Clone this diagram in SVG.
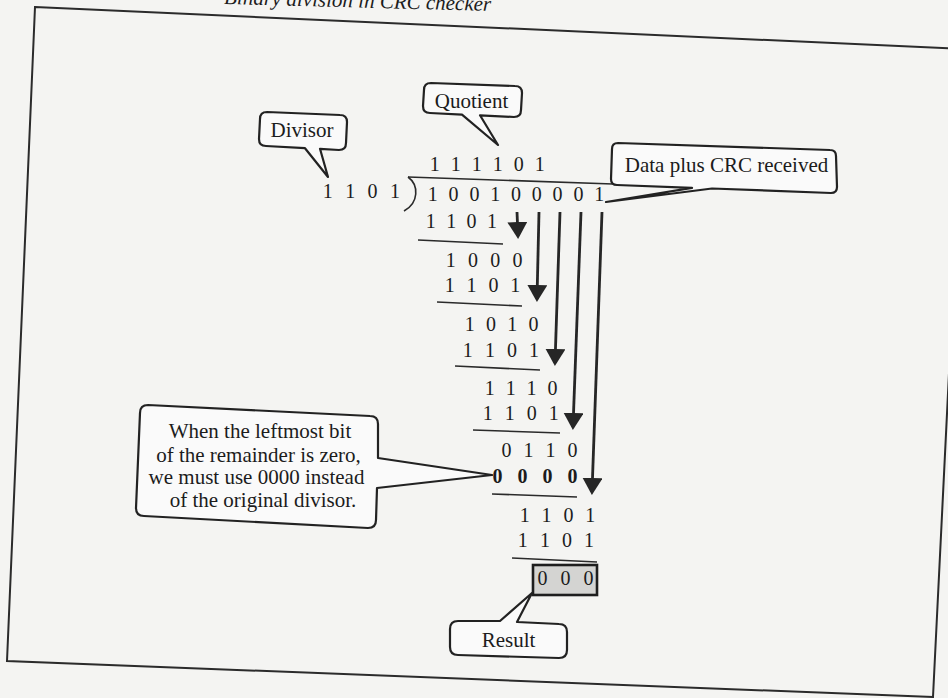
<svg xmlns="http://www.w3.org/2000/svg" width="948" height="698" viewBox="0 0 948 698">
<defs>
<style>
.t{font-family:"Liberation Serif","Times New Roman",serif;fill:#1c1c1c}
.d{font-size:20px}
.c{font-size:21px;text-anchor:middle}
.box{fill:#fafafa;stroke:#222;stroke-width:2.2;stroke-linejoin:round}
.ul{stroke:#2a2a2a;stroke-width:1.6;fill:none}
.sh{stroke:#262626;stroke-width:2.8;fill:none;marker-end:url(#ah)}
</style>
<marker id="ah" viewBox="0 0 17 20" refX="14" refY="10" markerWidth="17" markerHeight="20" markerUnits="userSpaceOnUse" orient="auto">
<path d="M0,0 L17,10 L0,20 Z" fill="#262626"/>
</marker>
</defs>
<rect width="948" height="698" fill="#f4f4f2"/>
<text class="t" x="491" y="11" font-size="21" font-style="italic" text-anchor="end" transform="rotate(1.5 491 11)">Binary division in CRC checker</text>
<polygon points="35,7 965,49 933,697 7,661" fill="none" stroke="#2b2b2b" stroke-width="2"/>

<g id="connectors">
<path class="sh" d="M517,212 L518,236"/>
<path class="sh" d="M539,212 L537,299"/>
<path class="sh" d="M560,212 L555,363"/>
<path class="sh" d="M581,212 L573,427"/>
<path class="sh" d="M602,212 L592,492"/>
</g>

<g id="division">
<path class="ul" d="M408,177 L613,184" stroke-width="1.8"/>
<path class="ul" d="M408,177 C419,185 419,203 404,211" stroke-width="1.8"/>
<text class="t d" x="429.8" y="171" letter-spacing="3">1 1 1 1 0 1</text>
<text class="t d" x="322.8" y="198" letter-spacing="3.7">1 1 0 1</text>
<text class="t d" x="427.8" y="201" letter-spacing="2.9">1 0 0 1 0 0 0 0 1</text>
<text class="t d" x="425.8" y="228" letter-spacing="2.7">1 1 0 1</text>
<path class="ul" d="M418,240 L503,244"/>
<text class="t d" x="445.8" y="267" letter-spacing="3.6">1 0 0 0</text>
<text class="t d" x="444.8" y="292" letter-spacing="3.4">1 1 0 1</text>
<path class="ul" d="M437,302 L522,306"/>
<text class="t d" x="464.8" y="331" letter-spacing="3.1">1 0 1 0</text>
<text class="t d" x="462.8" y="357" letter-spacing="3.55">1 1 0 1</text>
<path class="ul" d="M455,366 L540,370"/>
<text class="t d" x="484.8" y="395" letter-spacing="2.95">1 1 1 0</text>
<text class="t d" x="482.8" y="420" letter-spacing="3.5">1 1 0 1</text>
<path class="ul" d="M473,430 L560,433"/>
<text class="t d" x="501.5" y="457" letter-spacing="3.5">0 1 1 0</text>
<text class="t d" x="492.5" y="483" letter-spacing="5" font-weight="bold">0 0 0 0</text>
<path class="ul" d="M492,494 L577,497"/>
<text class="t d" x="519.8" y="522" letter-spacing="3.4">1 1 0 1</text>
<text class="t d" x="517.8" y="547" letter-spacing="3.55">1 1 0 1</text>
<path class="ul" d="M512,558 L597,562"/>
</g>

<g id="result-value">
<rect x="533" y="565" width="64" height="30" fill="#d4d4d2" stroke="#1e1e1e" stroke-width="2.6"/>
<text class="t d" x="537.5" y="585" letter-spacing="4">0 0 0</text>
</g>

<g id="divisor-label">
<path class="box" d="M267,112 L340,115 Q347,115 347,122 L346,143 Q346,150 339,150 L320,148.8 L328,177 L305,148.2 L266,146 Q259,146 259,139 L260,119 Q260,112 267,112 Z"/>
<text class="t c" x="302" y="137" font-size="20">Divisor</text>
</g>

<g id="quotient-label">
<path class="box" d="M431,83 L515,86 Q522,86 522,93 L521,110 Q521,117 514,117 L480,115.3 L498,145 L462,114.6 L430,113 Q423,113 423,106 L424,90 Q424,83 431,83 Z"/>
<text class="t c" x="471.5" y="108" font-size="20.5">Quotient</text>
</g>

<g id="data-label">
<path class="box" d="M618,143 L830,150 Q836,150 836,156 L837,187 Q837,193 831,193 L712,188.5 L606,202 L692,187.8 L617,185 Q611,185 611,179 L612,149 Q612,143 618,143 Z"/>
<text class="t c" x="726.5" y="172">Data plus CRC received</text>
</g>

<g id="note-label">
<path class="box" d="M148,405 L370,416 Q378,416 378,424 L378,458 L492,475 L377,488 L376,520 Q376,528 368,528 L144,516 Q136,516 136,508 L140,413 Q140,405 148,405 Z"/>
<text class="t c" x="260" y="438">When the leftmost bit</text>
<text class="t c" x="258.5" y="462">of the remainder is zero,</text>
<text class="t c" x="256.5" y="484">we must use 0000 instead</text>
<text class="t c" x="263" y="507">of the original divisor.</text>
</g>

<g id="result-label">
<path class="box" d="M458,621 L500,621 L532,593 L517,622 L559,624 Q567,624 567,632 L567,650 Q567,658 559,658 L458,655 Q450,655 450,647 L450,629 Q450,621 458,621 Z"/>
<text class="t c" x="508.5" y="647">Result</text>
</g>
</svg>
